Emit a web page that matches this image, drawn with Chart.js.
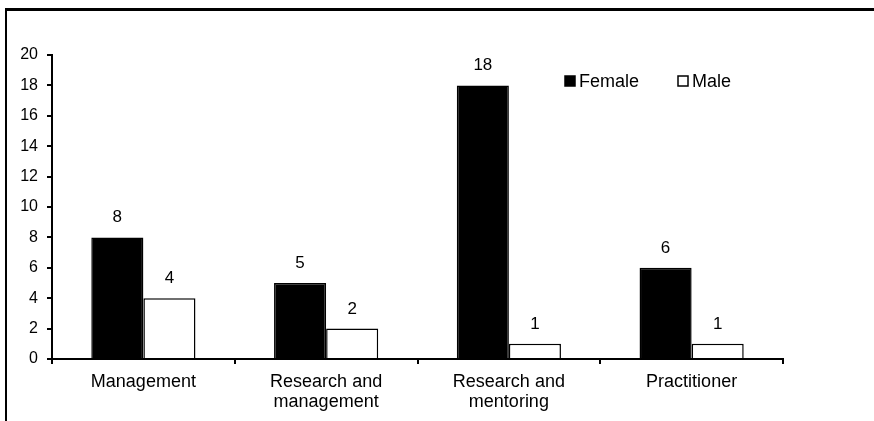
<!DOCTYPE html>
<html>
<head>
<meta charset="utf-8">
<script src="https://cdn.jsdelivr.net/npm/chart.js@4.4.1/dist/chart.umd.min.js"></script>
<style>
  html, body { margin: 0; padding: 0; background: #fff; overflow: hidden; }
  #wrap { position: relative; width: 874px; height: 421px; }
  #frame { position: absolute; left: 5px; top: 8px; width: 1000px; height: 1000px;
           border-left: 2px solid #000; border-top: 3px solid #000; pointer-events: none; }
</style>
</head>
<body>
<div id="wrap">
  <canvas id="chart" width="874" height="421"></canvas>
  <div id="frame"></div>
</div>
<script>
const categories = [
  'Management',
  ['Research and', 'management'],
  ['Research and', 'mentoring'],
  'Practitioner'
];
const femaleValues = [8, 5, 18, 6];
const maleValues = [4, 2, 1, 1];
const yTicks = [0, 2, 4, 6, 8, 10, 12, 14, 16, 18, 20];

const FONT = '"Liberation Sans", Arial, sans-serif';

// numbers above each bar
const valueLabels = {
  id: 'valueLabels',
  afterDatasetsDraw(chart) {
    const ctx = chart.ctx;
    ctx.save();
    ctx.font = '17px ' + FONT;
    ctx.fillStyle = '#000';
    ctx.textAlign = 'center';
    ctx.textBaseline = 'alphabetic';
    chart.data.datasets.forEach((ds, i) => {
      chart.getDatasetMeta(i).data.forEach((bar, j) => {
        ctx.fillText(String(ds.data[j]), bar.x, bar.y - 15);
      });
    });
    ctx.restore();
  }
};

// legend sits inside the plot, top right
const innerLegend = {
  id: 'innerLegend',
  afterDraw(chart) {
    const ctx = chart.ctx;
    const area = chart.chartArea;
    let x = area.right - 218;
    const y = area.top + 21;
    ctx.save();
    ctx.font = '18px ' + FONT;
    ctx.textBaseline = 'alphabetic';
    chart.data.datasets.forEach((ds) => {
      ctx.fillStyle = ds.backgroundColor;
      ctx.strokeStyle = '#000';
      ctx.lineWidth = 1.5;
      ctx.fillRect(x, y, 10, 10);
      ctx.strokeRect(x, y, 10, 10);
      ctx.fillStyle = '#000';
      ctx.fillText(ds.label, x + 14, y + 11);
      x += 113;
    });
    ctx.restore();
  }
};

new Chart(document.getElementById('chart'), {
  type: 'bar',
  data: {
    labels: categories,
    datasets: [
      { label: 'Female', data: femaleValues, backgroundColor: '#000', borderColor: '#000', borderWidth: 1.5 },
      { label: 'Male', data: maleValues, backgroundColor: '#fff', borderColor: '#000', borderWidth: 1.5 }
    ]
  },
  options: {
    responsive: false,
    animation: false,
    events: [],
    categoryPercentage: 0.57,
    barPercentage: 1.0,
    layout: { padding: { left: 0, right: 91, top: 55, bottom: 0 } },
    plugins: { legend: { display: false }, tooltip: { enabled: false } },
    scales: {
      x: {
        grid: { offset: true, drawOnChartArea: false, color: '#000', lineWidth: 2, tickLength: 5 },
        border: { color: '#000', width: 2 },
        ticks: { color: '#000', font: { family: FONT, size: 18, lineHeight: 1.12 }, padding: 8, maxRotation: 0 },
        afterFit(scale) { scale.height = 62; }
      },
      y: {
        min: 0,
        max: 20,
        afterBuildTicks(scale) { scale.ticks = yTicks.map(v => ({ value: v })); },
        grid: { drawOnChartArea: false, color: '#000', lineWidth: 2, tickLength: 5 },
        border: { color: '#000', width: 2 },
        ticks: { color: '#000', font: { family: FONT, size: 16 }, padding: 9 },
        afterFit(scale) { scale.width = 52; }
      }
    }
  },
  plugins: [valueLabels, innerLegend]
});
</script>
</body>
</html>
